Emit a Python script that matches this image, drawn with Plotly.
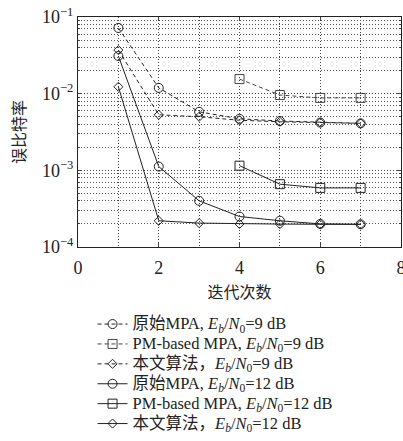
import plotly.graph_objects as go

iters_full = [1, 2, 3, 4, 5, 6, 7]
iters_pm = [4, 5, 6, 7]

orig_9 = [0.072, 0.0119, 0.0058, 0.0047, 0.0044, 0.0042, 0.0041]
pm_9 = [0.0155, 0.0096, 0.0088, 0.0088]
prop_9 = [0.037, 0.0053, 0.0050, 0.0045, 0.0043, 0.0042, 0.0041]
orig_12 = [0.031, 0.00112, 0.00040, 0.00025, 0.00022, 0.000200, 0.000198]
pm_12 = [0.00115, 0.00066, 0.00059, 0.00059]
prop_12 = [0.0123, 0.00022, 0.000205, 0.000200, 0.000199, 0.000198, 0.000197]

names = [
    "原始MPA, <i>E<sub>b</sub></i>/<i>N</i><sub>0</sub>=9 dB",
    "PM-based MPA, <i>E<sub>b</sub></i>/<i>N</i><sub>0</sub>=9 dB",
    "本文算法，<i>E<sub>b</sub></i>/<i>N</i><sub>0</sub>=9 dB",
    "原始MPA, <i>E<sub>b</sub></i>/<i>N</i><sub>0</sub>=12 dB",
    "PM-based MPA, <i>E<sub>b</sub></i>/<i>N</i><sub>0</sub>=12 dB",
    "本文算法，<i>E<sub>b</sub></i>/<i>N</i><sub>0</sub>=12 dB",
]

minor_y = [m * 10.0 ** e for e in (-4, -3, -2) for m in range(2, 10)]

series = [
    (iters_full, orig_9, "circle-open", "4px,3px", 9, "#222222"),
    (iters_pm, pm_9, "square-open", "4px,3px", 9, "#444444"),
    (iters_full, prop_9, "diamond-open", "4px,3px", 7, "#222222"),
    (iters_full, orig_12, "circle-open", "solid", 9, "#222222"),
    (iters_pm, pm_12, "square-open", "solid", 9, "#222222"),
    (iters_full, prop_12, "diamond-open", "solid", 7, "#222222"),
]

fig = go.Figure()
for (x, y, sym, dash, ms, col), nm in zip(series, names):
    fig.add_trace(go.Scatter(
        x=x, y=y, name='<span style="font-size:16.5px">' + nm + "</span>",
        mode="lines+markers",
        line=dict(color=col, width=1, dash=dash),
        marker=dict(symbol=sym, size=ms, color=col, line=dict(width=1, color=col)),
    ))

font_main = "Liberation Serif, Noto Sans CJK SC, serif"
gdash = "1px,2px"

fig.update_layout(
    width=403, height=441,
    margin=dict(l=78, r=2, t=17, b=194),
    paper_bgcolor="white", plot_bgcolor="white",
    font=dict(family=font_main, size=16, color="#222222"),
    showlegend=True,
    legend=dict(x=0.045, y=-0.27, xanchor="left", yanchor="top",
                bgcolor="rgba(0,0,0,0)", tracegroupgap=0, itemwidth=30,
                font=dict(size=13, family=font_main)),
    xaxis=dict(
        range=[0, 8], tickvals=[0, 2, 4, 6, 8], ticks="inside", ticklen=4,
        showline=True, mirror="ticks", linecolor="#222222", linewidth=1,
        showgrid=True, gridcolor="#444444", griddash=gdash, gridwidth=1,
        minor=dict(dtick=1, showgrid=True, gridcolor="#444444", griddash=gdash, ticks=""),
        zeroline=False, automargin=False, ticklabelstandoff=4,
        ticklabeloverflow="allow",
        title=dict(text="迭代次数", font=dict(family="Noto Sans CJK SC", size=16), standoff=10),
        tickfont=dict(size=18),
    ),
    yaxis=dict(
        type="log", range=[-4, -1],
        tickvals=[1e-4, 1e-3, 1e-2, 1e-1],
        ticktext=["10<sup>−4</sup>", "10<sup>−3</sup>", "10<sup>−2</sup>", "10<sup>−1</sup>"],
        ticks="inside", ticklen=4,
        showline=True, mirror="ticks", linecolor="#222222", linewidth=1,
        showgrid=True, gridcolor="#444444", griddash=gdash, gridwidth=1,
        minor=dict(tickvals=minor_y, showgrid=True, gridcolor="#555555", griddash=gdash,
                   ticks="inside", ticklen=2),
        zeroline=False, automargin=False, ticklabeloverflow="allow",
        title=dict(text="误比特率", font=dict(family="Noto Sans CJK SC", size=16), standoff=12),
        tickfont=dict(size=18),
    ),
)

fig.write_html("out.html", config={"displayModeBar": False},
               post_script="document.body.style.margin='0';")
